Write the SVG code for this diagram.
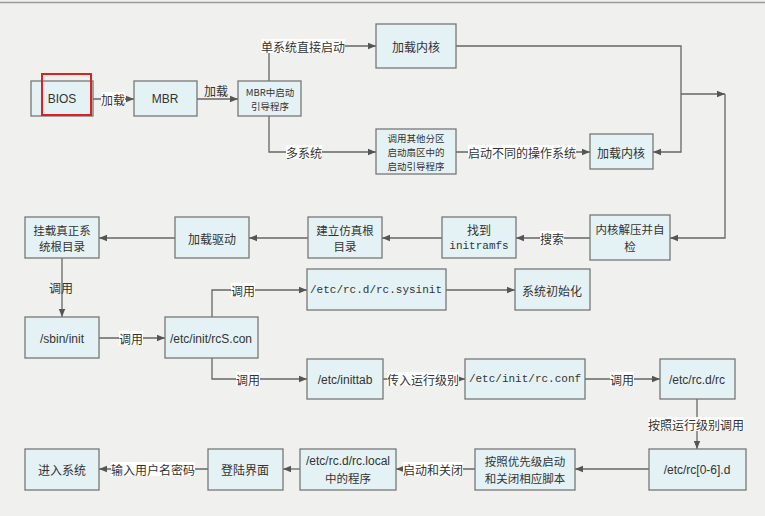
<svg xmlns="http://www.w3.org/2000/svg" width="765" height="516" viewBox="0 0 765 516">
<defs>
<marker id="arr" viewBox="0 0 10 10" refX="10" refY="5" markerWidth="8" markerHeight="8" markerUnits="userSpaceOnUse" orient="auto">
<path d="M0,1 L10,5 L0,9 Z" fill="#555"/>
</marker>
</defs>
<style>
.box{fill:#e5f2f5;stroke:#777;stroke-width:1.3}
.ln{fill:none;stroke:#666;stroke-width:1.3}
.ar{marker-end:url(#arr)}
text{fill:#333;text-anchor:middle;dominant-baseline:central}
.zh{font-family:"Noto Sans CJK SC",sans-serif;font-size:12px}
.z2{font-family:"Noto Sans CJK SC",sans-serif;font-size:11.5px}
.zs{font-family:"Noto Sans CJK SC",sans-serif;font-size:9.5px}
.en{font-family:"Liberation Sans",Arial,sans-serif;font-size:12px}
.mo{font-family:"Liberation Mono","Noto Sans CJK SC",monospace;font-size:11px}
.lb{fill:#ffffff}
</style>
<rect x="0" y="0" width="765" height="516" fill="#f0f0ee"/>
<line x1="0" y1="2.5" x2="765" y2="2.5" stroke="#9a9a9a" stroke-width="1.5"/>

<g id="connectors">
<line class="ln ar" x1="93" y1="99" x2="134" y2="99"/>
<rect class="lb" x="101" y="92" width="24" height="14"/><text class="zh" x="113" y="99">加载</text>
<line class="ln ar" x1="197" y1="99" x2="238" y2="99"/>
<text class="zh" x="216" y="90">加载</text>
<path class="ln ar" d="M269,81 V46 H376"/>
<rect class="lb" x="261" y="39" width="84" height="14"/><text class="zh" x="303" y="46">单系统直接启动</text>
<path class="ln ar" d="M269,116 V152 H376"/>
<rect class="lb" x="286" y="145" width="36" height="14"/><text class="zh" x="304" y="152">多系统</text>
<line class="ln ar" x1="456" y1="152" x2="590" y2="152"/>
<rect class="lb" x="468" y="145" width="108" height="14"/><text class="zh" x="522" y="152">启动不同的操作系统</text>
<path class="ln ar" d="M456,46 H681 V152 H653"/>
<path class="ln ar" d="M681,94 H725"/>
<path class="ln ar" d="M725,94 V238 H670"/>
<line class="ln ar" x1="590" y1="238" x2="516" y2="238"/>
<rect class="lb" x="540" y="231" width="24" height="14"/><text class="zh" x="552" y="238">搜索</text>
<line class="ln ar" x1="442" y1="238" x2="382" y2="238"/>
<line class="ln ar" x1="308" y1="238" x2="249" y2="238"/>
<line class="ln ar" x1="175" y1="238" x2="99" y2="238"/>
<line class="ln ar" x1="62" y1="258" x2="62" y2="317"/>
<text class="zh" x="61" y="287">调用</text>
<line class="ln ar" x1="99" y1="338" x2="165" y2="338"/>
<rect class="lb" x="119" y="331" width="24" height="14"/><text class="zh" x="131" y="338">调用</text>
<path class="ln ar" d="M212,317 V290 H307"/>
<rect class="lb" x="231" y="283" width="24" height="14"/><text class="zh" x="243" y="290">调用</text>
<line class="ln ar" x1="446" y1="290" x2="515" y2="290"/>
<path class="ln ar" d="M212,358 V379 H307"/>
<rect class="lb" x="236" y="372" width="24" height="14"/><text class="zh" x="248" y="379">调用</text>
<line class="ln ar" x1="383" y1="379" x2="465" y2="379"/>
<rect class="lb" x="387" y="372" width="72" height="14"/><text class="zh" x="423" y="379">传入运行级别</text>
<line class="ln ar" x1="585" y1="379" x2="660" y2="379"/>
<rect class="lb" x="610" y="372" width="24" height="14"/><text class="zh" x="622" y="379">调用</text>
<line class="ln ar" x1="697" y1="399" x2="697" y2="449"/>
<rect class="lb" x="648" y="417" width="96" height="14"/><text class="zh" x="696" y="424">按照运行级别调用</text>
<line class="ln ar" x1="649" y1="469" x2="575" y2="469"/>
<line class="ln ar" x1="475" y1="469" x2="396" y2="469"/>
<rect class="lb" x="403" y="462" width="60" height="14"/><text class="zh" x="433" y="469">启动和关闭</text>
<line class="ln ar" x1="300" y1="469" x2="283" y2="469"/>
<line class="ln ar" x1="208" y1="469" x2="99" y2="469"/>
<rect class="lb" x="111" y="462" width="84" height="14"/><text class="zh" x="153" y="469">输入用户名密码</text>
</g>

<g id="bios"><rect class="box" x="31" y="81" width="62" height="35"/><text class="en" x="62" y="99">BIOS</text>
<rect x="42" y="74" width="49" height="41" fill="none" stroke="#e02020" stroke-width="2"/></g>
<g id="mbr"><rect class="box" x="134" y="81" width="63" height="35"/><text class="en" x="165" y="99">MBR</text></g>
<g id="mbr-loader"><rect class="box" x="238" y="81" width="63" height="35"/><text class="zs" x="270" y="91.5">MBR中启动</text><text class="zs" x="270" y="106">引导程序</text></g>
<g id="kernel1"><rect class="box" x="376" y="24" width="80" height="44"/><text class="zh" x="416" y="46">加载内核</text></g>
<g id="other-part"><rect class="box" x="376" y="129" width="80" height="45"/><text class="zs" x="416" y="137.5">调用其他分区</text><text class="zs" x="416" y="151.5">启动扇区中的</text><text class="zs" x="416" y="165.5">启动引导程序</text></g>
<g id="kernel2"><rect class="box" x="590" y="134" width="63" height="35"/><text class="zh" x="621" y="152">加载内核</text></g>
<g id="decompress"><rect class="box" x="590" y="215" width="80" height="45"/><text class="z2" x="630" y="229">内核解压并自</text><text class="z2" x="630" y="246">检</text></g>
<g id="initramfs"><rect class="box" x="442" y="217" width="74" height="41"/><text class="zh" x="479" y="229">找到</text><text class="mo" x="479" y="246">initramfs</text></g>
<g id="fakeroot"><rect class="box" x="308" y="217" width="74" height="41"/><text class="z2" x="345" y="229.5">建立仿真根</text><text class="z2" x="345" y="246">目录</text></g>
<g id="driver"><rect class="box" x="175" y="217" width="74" height="41"/><text class="zh" x="212" y="238">加载驱动</text></g>
<g id="realroot"><rect class="box" x="25" y="217" width="74" height="41"/><text class="z2" x="62" y="229.5">挂载真正系</text><text class="z2" x="62" y="246">统根目录</text></g>
<g id="sbininit"><rect class="box" x="25" y="317" width="74" height="41"/><text class="en" x="62" y="339">/sbin/init</text></g>
<g id="rcscon"><rect class="box" x="165" y="317" width="93" height="41"/><text class="en" x="211" y="339">/etc/init/rcS.con</text></g>
<g id="sysinit"><rect class="box" x="307" y="269" width="139" height="41"/><text class="mo" x="376" y="290">/etc/rc.d/rc.sysinit</text></g>
<g id="sysinit-done"><rect class="box" x="515" y="269" width="75" height="41"/><text class="zh" x="552" y="290">系统初始化</text></g>
<g id="inittab"><rect class="box" x="307" y="359" width="76" height="40"/><text class="en" x="345" y="380">/etc/inittab</text></g>
<g id="rcconf"><rect class="box" x="465" y="359" width="120" height="40"/><text class="mo" x="525" y="379">/etc/init/rc.conf</text></g>
<g id="rcdrc"><rect class="box" x="660" y="359" width="75" height="40"/><text class="en" x="697" y="380">/etc/rc.d/rc</text></g>
<g id="rc06"><rect class="box" x="649" y="449" width="97" height="41"/><text class="en" x="697" y="470">/etc/rc[0-6].d</text></g>
<g id="scripts"><rect class="box" x="475" y="449" width="100" height="41"/><text class="z2" x="525" y="461">按照优先级启动</text><text class="z2" x="525" y="478">和关闭相应脚本</text></g>
<g id="rclocal"><rect class="box" x="300" y="449" width="96" height="41"/><text class="en" x="348" y="461">/etc/rc.d/rc.local</text><text class="z2" x="348" y="478">中的程序</text></g>
<g id="login"><rect class="box" x="208" y="449" width="75" height="41"/><text class="zh" x="245" y="469">登陆界面</text></g>
<g id="enter"><rect class="box" x="25" y="449" width="74" height="41"/><text class="zh" x="62" y="469">进入系统</text></g>
</svg>
